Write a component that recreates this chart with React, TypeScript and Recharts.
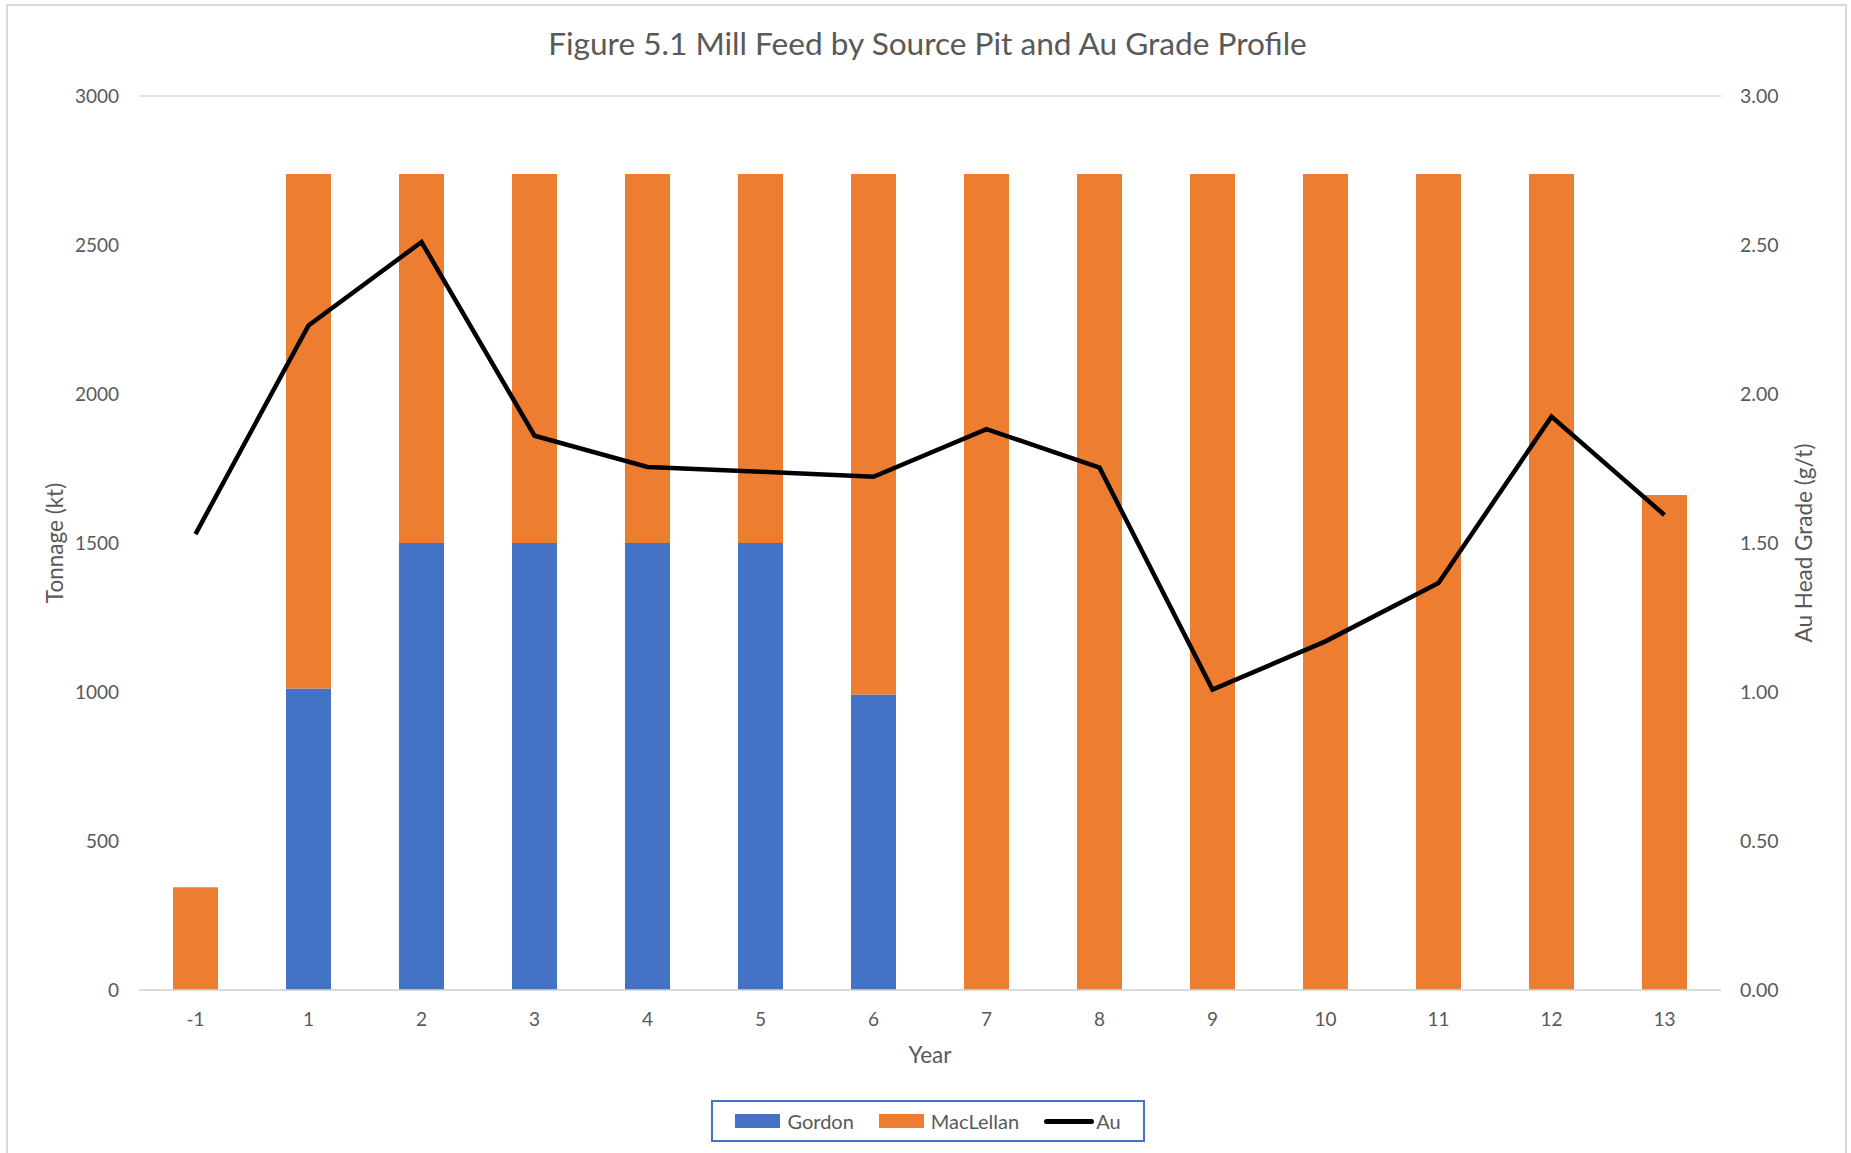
import { ComposedChart, Bar, Line, XAxis, YAxis, CartesianGrid } from 'recharts';

const years = ['-1', '1', '2', '3', '4', '5', '6', '7', '8', '9', '10', '11', '12', '13'];
const gordon = [0, 1012, 1500, 1500, 1500, 1500, 992, 0, 0, 0, 0, 0, 0, 0];
const maclellan = [345, 1726, 1238, 1238, 1238, 1238, 1746, 2738, 2738, 2738, 2738, 2738, 2738, 1661];
const auGrade = [1.53, 2.23, 2.51, 1.86, 1.755, 1.739, 1.722, 1.882, 1.753, 1.008, 1.17, 1.366, 1.924, 1.594];

const tonnageTicks = [0, 500, 1000, 1500, 2000, 2500, 3000];
const gradeTicks = [0, 0.5, 1, 1.5, 2, 2.5, 3];

const FONT = 'Lato, "Open Sans", sans-serif';
const TEXT = '#595959';
const GRID = '#d9d9d9';

const chartData = years.map((year, i) => ({
  year,
  Gordon: gordon[i],
  MacLellan: maclellan[i],
  Au: auGrade[i],
}));

export default function App() {
  return (
    <div
      style={{
        position: 'absolute',
        left: 0,
        top: 0,
        width: 1851,
        height: 1153,
        background: '#fff',
        fontFamily: FONT,
        overflow: 'hidden',
      }}
    >
      {/* chart frame */}
      <div
        style={{
          position: 'absolute',
          left: 6,
          top: 4,
          width: 1841,
          height: 1200,
          border: `2px solid ${GRID}`,
          boxSizing: 'border-box',
        }}
      />

      {/* title */}
      <div
        style={{
          position: 'absolute',
          top: 24,
          left: 0,
          width: 1851,
          paddingLeft: 2,
          textAlign: 'center',
          fontSize: 31.6,
          color: TEXT,
        }}
      >
        Figure 5.1 Mill Feed by Source Pit and Au Grade Profile
      </div>

      <ComposedChart
        width={1851}
        height={1153}
        data={chartData}
        margin={{ top: 96, right: 0, bottom: 83, left: 0 }}
        barSize={45}
        style={{ position: 'absolute', left: 0, top: 0 }}
      >
        <CartesianGrid vertical={false} stroke={GRID} strokeWidth={1.5} />
        <XAxis
          dataKey="year"
          height={80}
          tickLine={false}
          axisLine={{ stroke: GRID, strokeWidth: 1.5 }}
          tick={{ fill: TEXT, fontSize: 19, fontFamily: FONT }}
          tickMargin={17}
          label={{ value: 'Year', position: 'center', dy: 25, fill: TEXT, fontSize: 22.5, fontFamily: FONT }}
        />
        <YAxis
          yAxisId="left"
          width={139}
          domain={[0, 3000]}
          ticks={tonnageTicks}
          tickLine={false}
          axisLine={false}
          tick={{ fill: TEXT, fontSize: 19, fontFamily: FONT }}
          tickMargin={14}
          label={{
            value: 'Tonnage (kt)',
            angle: -90,
            position: 'center',
            dx: -14,
            fill: TEXT,
            fontSize: 22.5,
            fontFamily: FONT,
          }}
        />
        <YAxis
          yAxisId="right"
          orientation="right"
          width={130}
          domain={[0, 3]}
          ticks={gradeTicks}
          tickFormatter={(v: number) => v.toFixed(2)}
          tickLine={false}
          axisLine={false}
          tick={{ fill: TEXT, fontSize: 19.5, fontFamily: FONT }}
          tickMargin={13}
          label={{
            value: 'Au Head Grade (g/t)',
            angle: -90,
            position: 'center',
            dx: 18,
            fill: TEXT,
            fontSize: 22.5,
            fontFamily: FONT,
          }}
        />
        <Bar yAxisId="left" dataKey="Gordon" stackId="feed" fill="#4472C4" isAnimationActive={false} />
        <Bar yAxisId="left" dataKey="MacLellan" stackId="feed" fill="#ED7D31" isAnimationActive={false} />
        <Line
          yAxisId="right"
          dataKey="Au"
          stroke="#000"
          strokeWidth={4.5}
          dot={false}
          activeDot={false}
          type="linear"
          isAnimationActive={false}
        />
      </ComposedChart>

      {/* legend */}
      <div
        style={{
          position: 'absolute',
          left: 711,
          top: 1100,
          width: 434,
          height: 42,
          border: '2px solid #4472C4',
          boxSizing: 'border-box',
          display: 'flex',
          alignItems: 'center',
          justifyContent: 'center',
          gap: 25,
          fontSize: 20,
          color: TEXT,
        }}
      >
        <span style={{ display: 'flex', alignItems: 'center', gap: 7 }}>
          <span style={{ width: 45, height: 14, background: '#4472C4', display: 'inline-block' }} />
          Gordon
        </span>
        <span style={{ display: 'flex', alignItems: 'center', gap: 7 }}>
          <span style={{ width: 45, height: 14, background: '#ED7D31', display: 'inline-block' }} />
          MacLellan
        </span>
        <span style={{ display: 'flex', alignItems: 'center', gap: 2 }}>
          <span style={{ width: 50, height: 5, borderRadius: 3, background: '#000', display: 'inline-block' }} />
          Au
        </span>
      </div>
    </div>
  );
}
